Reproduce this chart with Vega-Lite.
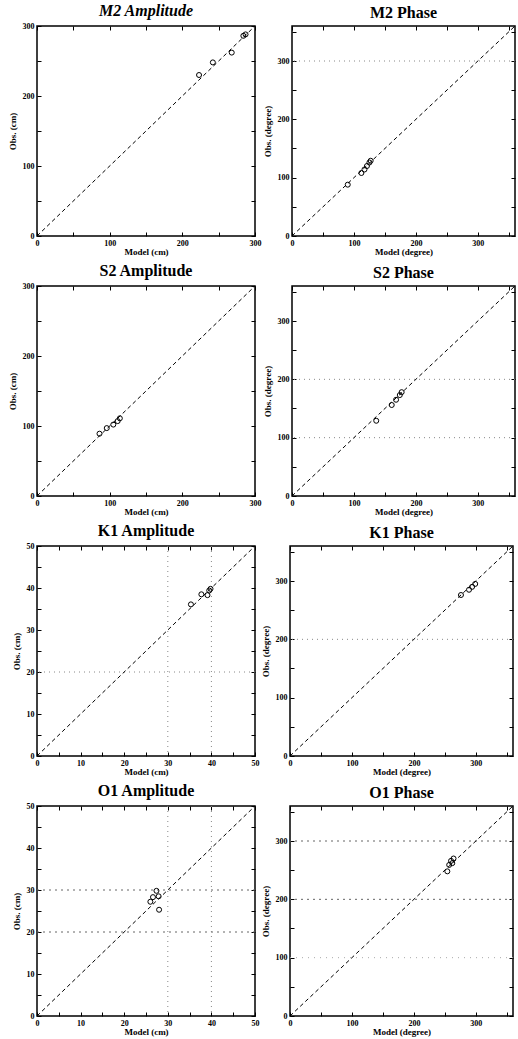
{
  "$schema": "https://vega.github.io/schema/vega-lite/v6.json",
  "background": "white",
  "padding": {"left": 7, "top": 2, "right": 0, "bottom": 0},
  "spacing": 5,
  "config": {
    "view": {"stroke": "black", "strokeWidth": 1.5},
    "font": "Liberation Serif",
    "axis": {"labelFont": "Liberation Serif", "labelFontWeight": "bold", "labelFontSize": 8, "titleFont": "Liberation Serif", "titleFontWeight": "bold", "titleFontSize": 9, "domain": false, "grid": false, "tickColor": "black", "tickWidth": 1, "labelColor": "black", "titleColor": "black", "labelFlush": false, "labelOverlap": false, "tickSize": -4, "labelPadding": 7},
    "axisX": {"titlePadding": 0},
    "axisY": {"titlePadding": 5},
    "title": {"font": "Liberation Serif", "fontWeight": "bold", "fontSize": 16, "offset": 3, "color": "black"}
  },
  "vconcat": [
    {"spacing": 0, "hconcat": [
      {"width": 218, "height": 210, "title": {"text": "M2 Amplitude", "fontStyle": "italic"},
       "layer": [
        {"data": {"values": [{"v": 0}, {"v": 300}]}, "mark": {"type": "line", "color": "black", "strokeDash": [4, 3], "strokeWidth": 1},
         "encoding": {
          "x": {"field": "v", "type": "quantitative", "scale": {"domain": [0, 300], "nice": false}, "axis": {"orient": "top", "labels": false, "title": null, "values": [0, 50, 100, 150, 200, 250, 300]}},
          "y": {"field": "v", "type": "quantitative", "scale": {"domain": [0, 300], "nice": false}, "axis": {"orient": "right", "labels": false, "title": null, "values": [0, 50, 100, 150, 200, 250, 300]}}}},
        {"data": {"values": [{"model": 223, "obs": 230}, {"model": 242, "obs": 248}, {"model": 268, "obs": 262}, {"model": 284, "obs": 286}, {"model": 287, "obs": 288}]},
         "mark": {"type": "point", "shape": "circle", "filled": false, "color": "black", "size": 25, "strokeWidth": 1, "opacity": 1},
         "encoding": {
          "x": {"field": "model", "type": "quantitative", "axis": {"orient": "bottom", "title": "Model (cm)", "values": [0, 50, 100, 150, 200, 250, 300], "labelExpr": "datum.value % 100 === 0 ? datum.label : ''"}},
          "y": {"field": "obs", "type": "quantitative", "axis": {"orient": "left", "title": "Obs. (cm)", "values": [0, 50, 100, 150, 200, 250, 300], "labelExpr": "datum.value % 100 === 0 ? datum.label : ''"}}}}
       ],
       "resolve": {"axis": {"x": "independent", "y": "independent"}}},
      {"width": 223, "height": 210, "title": "M2 Phase",
       "layer": [
        {"data": {"values": [{"g": 300}]}, "mark": {"type": "rule", "color": "#888", "strokeDash": [1, 4], "strokeWidth": 1},
         "encoding": {"y": {"field": "g", "type": "quantitative", "axis": null}}},
        {"data": {"values": [{"v": 0}, {"v": 360}]}, "mark": {"type": "line", "color": "black", "strokeDash": [4, 3], "strokeWidth": 1},
         "encoding": {
          "x": {"field": "v", "type": "quantitative", "scale": {"domain": [0, 360], "nice": false}, "axis": {"orient": "top", "labels": false, "title": null, "values": [0, 50, 100, 150, 200, 250, 300, 350]}},
          "y": {"field": "v", "type": "quantitative", "scale": {"domain": [0, 360], "nice": false}, "axis": {"orient": "right", "labels": false, "title": null, "values": [0, 50, 100, 150, 200, 250, 300, 350]}}}},
        {"data": {"values": [{"model": 90, "obs": 88}, {"model": 112, "obs": 108}, {"model": 117, "obs": 114}, {"model": 121, "obs": 120}, {"model": 125, "obs": 126}, {"model": 127, "obs": 129}]},
         "mark": {"type": "point", "shape": "circle", "filled": false, "color": "black", "size": 25, "strokeWidth": 1, "opacity": 1},
         "encoding": {
          "x": {"field": "model", "type": "quantitative", "axis": {"orient": "bottom", "title": "Model (degree)", "values": [0, 50, 100, 150, 200, 250, 300, 350], "labelExpr": "datum.value % 100 === 0 ? datum.label : ''"}},
          "y": {"field": "obs", "type": "quantitative", "axis": {"orient": "left", "title": "Obs. (degree)", "values": [0, 50, 100, 150, 200, 250, 300, 350], "labelExpr": "datum.value % 100 === 0 ? datum.label : ''"}}}}
       ],
       "resolve": {"axis": {"x": "independent", "y": "independent"}}}
    ]},
    {"spacing": 0, "hconcat": [
      {"width": 218, "height": 210, "title": "S2 Amplitude",
       "layer": [
        {"data": {"values": [{"v": 0}, {"v": 300}]}, "mark": {"type": "line", "color": "black", "strokeDash": [4, 3], "strokeWidth": 1},
         "encoding": {
          "x": {"field": "v", "type": "quantitative", "scale": {"domain": [0, 300], "nice": false}, "axis": {"orient": "top", "labels": false, "title": null, "values": [0, 50, 100, 150, 200, 250, 300]}},
          "y": {"field": "v", "type": "quantitative", "scale": {"domain": [0, 300], "nice": false}, "axis": {"orient": "right", "labels": false, "title": null, "values": [0, 50, 100, 150, 200, 250, 300]}}}},
        {"data": {"values": [{"model": 86, "obs": 89}, {"model": 96, "obs": 97}, {"model": 105, "obs": 102}, {"model": 111, "obs": 107}, {"model": 114, "obs": 111}]},
         "mark": {"type": "point", "shape": "circle", "filled": false, "color": "black", "size": 25, "strokeWidth": 1, "opacity": 1},
         "encoding": {
          "x": {"field": "model", "type": "quantitative", "axis": {"orient": "bottom", "title": "Model (cm)", "values": [0, 50, 100, 150, 200, 250, 300], "labelExpr": "datum.value % 100 === 0 ? datum.label : ''"}},
          "y": {"field": "obs", "type": "quantitative", "axis": {"orient": "left", "title": "Obs. (cm)", "values": [0, 50, 100, 150, 200, 250, 300], "labelExpr": "datum.value % 100 === 0 ? datum.label : ''"}}}}
       ],
       "resolve": {"axis": {"x": "independent", "y": "independent"}}},
      {"width": 223, "height": 210, "title": "S2 Phase",
       "layer": [
        {"data": {"values": [{"g": 100}, {"g": 200}]}, "mark": {"type": "rule", "color": "#888", "strokeDash": [1, 4], "strokeWidth": 1},
         "encoding": {"y": {"field": "g", "type": "quantitative", "axis": null}}},
        {"data": {"values": [{"v": 0}, {"v": 360}]}, "mark": {"type": "line", "color": "black", "strokeDash": [4, 3], "strokeWidth": 1},
         "encoding": {
          "x": {"field": "v", "type": "quantitative", "scale": {"domain": [0, 360], "nice": false}, "axis": {"orient": "top", "labels": false, "title": null, "values": [0, 50, 100, 150, 200, 250, 300, 350]}},
          "y": {"field": "v", "type": "quantitative", "scale": {"domain": [0, 360], "nice": false}, "axis": {"orient": "right", "labels": false, "title": null, "values": [0, 50, 100, 150, 200, 250, 300, 350]}}}},
        {"data": {"values": [{"model": 136, "obs": 129}, {"model": 161, "obs": 156}, {"model": 168, "obs": 165}, {"model": 174, "obs": 173}, {"model": 177, "obs": 178}]},
         "mark": {"type": "point", "shape": "circle", "filled": false, "color": "black", "size": 25, "strokeWidth": 1, "opacity": 1},
         "encoding": {
          "x": {"field": "model", "type": "quantitative", "axis": {"orient": "bottom", "title": "Model (degree)", "values": [0, 50, 100, 150, 200, 250, 300, 350], "labelExpr": "datum.value % 100 === 0 ? datum.label : ''"}},
          "y": {"field": "obs", "type": "quantitative", "axis": {"orient": "left", "title": "Obs. (degree)", "values": [0, 50, 100, 150, 200, 250, 300, 350], "labelExpr": "datum.value % 100 === 0 ? datum.label : ''"}}}}
       ],
       "resolve": {"axis": {"x": "independent", "y": "independent"}}}
    ]},
    {"spacing": 0, "hconcat": [
      {"width": 218, "height": 210, "title": "K1 Amplitude",
       "layer": [
        {"data": {"values": [{"g": 20}]}, "mark": {"type": "rule", "color": "#888", "strokeDash": [1, 4], "strokeWidth": 1},
         "encoding": {"y": {"field": "g", "type": "quantitative", "axis": null}}},
        {"data": {"values": [{"g": 30}, {"g": 40}]}, "mark": {"type": "rule", "color": "#888", "strokeDash": [1, 4], "strokeWidth": 1},
         "encoding": {"x": {"field": "g", "type": "quantitative", "axis": null}}},
        {"data": {"values": [{"v": 0}, {"v": 50}]}, "mark": {"type": "line", "color": "black", "strokeDash": [4, 3], "strokeWidth": 1},
         "encoding": {
          "x": {"field": "v", "type": "quantitative", "scale": {"domain": [0, 50], "nice": false}, "axis": {"orient": "top", "labels": false, "title": null, "values": [0, 5, 10, 15, 20, 25, 30, 35, 40, 45, 50]}},
          "y": {"field": "v", "type": "quantitative", "scale": {"domain": [0, 50], "nice": false}, "axis": {"orient": "right", "labels": false, "title": null, "values": [0, 5, 10, 15, 20, 25, 30, 35, 40, 45, 50]}}}},
        {"data": {"values": [{"model": 35.3, "obs": 36.1}, {"model": 37.7, "obs": 38.5}, {"model": 39.1, "obs": 38.3}, {"model": 39.5, "obs": 39.4}, {"model": 39.8, "obs": 39.8}]},
         "mark": {"type": "point", "shape": "circle", "filled": false, "color": "black", "size": 25, "strokeWidth": 1, "opacity": 1},
         "encoding": {
          "x": {"field": "model", "type": "quantitative", "axis": {"orient": "bottom", "title": "Model (cm)", "values": [0, 5, 10, 15, 20, 25, 30, 35, 40, 45, 50], "labelExpr": "datum.value % 10 === 0 ? datum.label : ''"}},
          "y": {"field": "obs", "type": "quantitative", "axis": {"orient": "left", "title": "Obs. (cm)", "values": [0, 5, 10, 15, 20, 25, 30, 35, 40, 45, 50], "labelExpr": "datum.value % 10 === 0 ? datum.label : ''"}}}}
       ],
       "resolve": {"axis": {"x": "independent", "y": "independent"}}},
      {"width": 223, "height": 210, "title": "K1 Phase",
       "layer": [
        {"data": {"values": [{"g": 200}]}, "mark": {"type": "rule", "color": "#888", "strokeDash": [1, 4], "strokeWidth": 1},
         "encoding": {"y": {"field": "g", "type": "quantitative", "axis": null}}},
        {"data": {"values": [{"v": 0}, {"v": 360}]}, "mark": {"type": "line", "color": "black", "strokeDash": [4, 3], "strokeWidth": 1},
         "encoding": {
          "x": {"field": "v", "type": "quantitative", "scale": {"domain": [0, 360], "nice": false}, "axis": {"orient": "top", "labels": false, "title": null, "values": [0, 50, 100, 150, 200, 250, 300, 350]}},
          "y": {"field": "v", "type": "quantitative", "scale": {"domain": [0, 360], "nice": false}, "axis": {"orient": "right", "labels": false, "title": null, "values": [0, 50, 100, 150, 200, 250, 300, 350]}}}},
        {"data": {"values": [{"model": 276, "obs": 276}, {"model": 289, "obs": 285}, {"model": 294, "obs": 290}, {"model": 299, "obs": 295}]},
         "mark": {"type": "point", "shape": "circle", "filled": false, "color": "black", "size": 25, "strokeWidth": 1, "opacity": 1},
         "encoding": {
          "x": {"field": "model", "type": "quantitative", "axis": {"orient": "bottom", "title": "Model (degree)", "values": [0, 50, 100, 150, 200, 250, 300, 350], "labelExpr": "datum.value % 100 === 0 ? datum.label : ''"}},
          "y": {"field": "obs", "type": "quantitative", "axis": {"orient": "left", "title": "Obs. (degree)", "values": [0, 50, 100, 150, 200, 250, 300, 350], "labelExpr": "datum.value % 100 === 0 ? datum.label : ''"}}}}
       ],
       "resolve": {"axis": {"x": "independent", "y": "independent"}}}
    ]},
    {"spacing": 0, "hconcat": [
      {"width": 218, "height": 210, "title": "O1 Amplitude",
       "layer": [
        {"data": {"values": [{"g": 20}, {"g": 30}]}, "mark": {"type": "rule", "color": "#666", "strokeDash": [2, 4], "strokeWidth": 1},
         "encoding": {"y": {"field": "g", "type": "quantitative", "axis": null}}},
        {"data": {"values": [{"g": 30}, {"g": 40}]}, "mark": {"type": "rule", "color": "#888", "strokeDash": [1, 4], "strokeWidth": 1},
         "encoding": {"x": {"field": "g", "type": "quantitative", "axis": null}}},
        {"data": {"values": [{"v": 0}, {"v": 50}]}, "mark": {"type": "line", "color": "black", "strokeDash": [4, 3], "strokeWidth": 1},
         "encoding": {
          "x": {"field": "v", "type": "quantitative", "scale": {"domain": [0, 50], "nice": false}, "axis": {"orient": "top", "labels": false, "title": null, "values": [0, 5, 10, 15, 20, 25, 30, 35, 40, 45, 50]}},
          "y": {"field": "v", "type": "quantitative", "scale": {"domain": [0, 50], "nice": false}, "axis": {"orient": "right", "labels": false, "title": null, "values": [0, 5, 10, 15, 20, 25, 30, 35, 40, 45, 50]}}}},
        {"data": {"values": [{"model": 26.0, "obs": 27.2}, {"model": 26.6, "obs": 28.3}, {"model": 27.4, "obs": 29.8}, {"model": 27.9, "obs": 28.5}, {"model": 28.0, "obs": 25.3}]},
         "mark": {"type": "point", "shape": "circle", "filled": false, "color": "black", "size": 25, "strokeWidth": 1, "opacity": 1},
         "encoding": {
          "x": {"field": "model", "type": "quantitative", "axis": {"orient": "bottom", "title": "Model (cm)", "values": [0, 5, 10, 15, 20, 25, 30, 35, 40, 45, 50], "labelExpr": "datum.value % 10 === 0 ? datum.label : ''"}},
          "y": {"field": "obs", "type": "quantitative", "axis": {"orient": "left", "title": "Obs. (cm)", "values": [0, 5, 10, 15, 20, 25, 30, 35, 40, 45, 50], "labelExpr": "datum.value % 10 === 0 ? datum.label : ''"}}}}
       ],
       "resolve": {"axis": {"x": "independent", "y": "independent"}}},
      {"width": 223, "height": 210, "title": "O1 Phase",
       "layer": [
        {"data": {"values": [{"g": 200}, {"g": 300}]}, "mark": {"type": "rule", "color": "#666", "strokeDash": [2, 4], "strokeWidth": 1},
         "encoding": {"y": {"field": "g", "type": "quantitative", "axis": null}}},
        {"data": {"values": [{"g": 100}]}, "mark": {"type": "rule", "color": "#aaa", "strokeDash": [1, 5], "strokeWidth": 1},
         "encoding": {"y": {"field": "g", "type": "quantitative", "axis": null}}},
        {"data": {"values": [{"v": 0}, {"v": 360}]}, "mark": {"type": "line", "color": "black", "strokeDash": [4, 3], "strokeWidth": 1},
         "encoding": {
          "x": {"field": "v", "type": "quantitative", "scale": {"domain": [0, 360], "nice": false}, "axis": {"orient": "top", "labels": false, "title": null, "values": [0, 50, 100, 150, 200, 250, 300, 350]}},
          "y": {"field": "v", "type": "quantitative", "scale": {"domain": [0, 360], "nice": false}, "axis": {"orient": "right", "labels": false, "title": null, "values": [0, 50, 100, 150, 200, 250, 300, 350]}}}},
        {"data": {"values": [{"model": 254, "obs": 248}, {"model": 257, "obs": 259}, {"model": 260, "obs": 266}, {"model": 264, "obs": 270}, {"model": 262, "obs": 262}]},
         "mark": {"type": "point", "shape": "circle", "filled": false, "color": "black", "size": 25, "strokeWidth": 1, "opacity": 1},
         "encoding": {
          "x": {"field": "model", "type": "quantitative", "axis": {"orient": "bottom", "title": "Model (degree)", "values": [0, 50, 100, 150, 200, 250, 300, 350], "labelExpr": "datum.value % 100 === 0 ? datum.label : ''"}},
          "y": {"field": "obs", "type": "quantitative", "axis": {"orient": "left", "title": "Obs. (degree)", "values": [0, 50, 100, 150, 200, 250, 300, 350], "labelExpr": "datum.value % 100 === 0 ? datum.label : ''"}}}}
       ],
       "resolve": {"axis": {"x": "independent", "y": "independent"}}}
    ]}
  ]
}
